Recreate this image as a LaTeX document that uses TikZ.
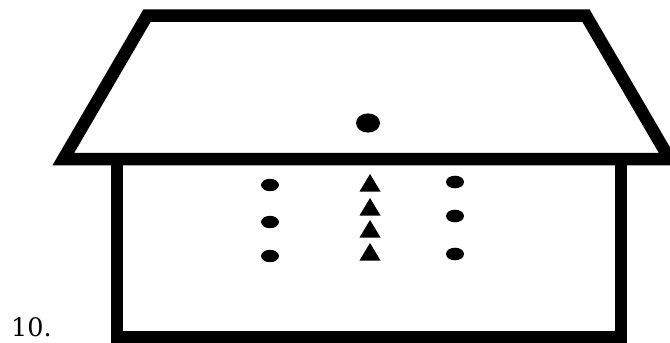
\documentclass[tikz,border=0pt]{standalone}
\usepackage{fontspec}
\newfontfamily\labelfont{DejaVu Serif}
\usetikzlibrary{calc}
\tikzset{
  wall/.style={line width=12.5pt, line join=miter, miter limit=10},
  dotmark/.style={fill=black},
  trimark/.style={fill=black},
  numlabel/.style={anchor=base west, inner sep=0pt, text depth=0pt, font=\labelfont\fontsize{25.5}{28}\selectfont}
}
\begin{document}
\begin{tikzpicture}[x=1pt, y=-1pt]
  \useasboundingbox (0,0) rectangle (670,343);
  \clip (0,0) rectangle (670,343);
  % house body
  \draw[wall] (117,159) -- (117,337) -- (621,337) -- (621,159);
  % roof
  \draw[wall] (147.1,15.5) -- (585.9,15.5) -- (669.6,159) -- (63.4,159) -- cycle;
  % dot in the roof
  \fill[dotmark] (368,123) ellipse [x radius=12pt, y radius=9.6pt];
  % left column of dots
  \foreach \yy in {185,222,256}
    \fill[dotmark] (270,\yy) ellipse [x radius=9pt, y radius=6.2pt];
  % right column of dots
  \foreach \yy in {182,216,254}
    \fill[dotmark] (455,\yy) ellipse [x radius=9pt, y radius=6.3pt];
  % column of triangles
  \foreach \ty in {174,198,220,243}
    \fill[trimark] (370,\ty) -- (380.5,\ty+17.5) -- (359.5,\ty+17.5) -- cycle;
  % item number
  \node[numlabel] (num) at (11,336) {10.};
\end{tikzpicture}
\end{document}
